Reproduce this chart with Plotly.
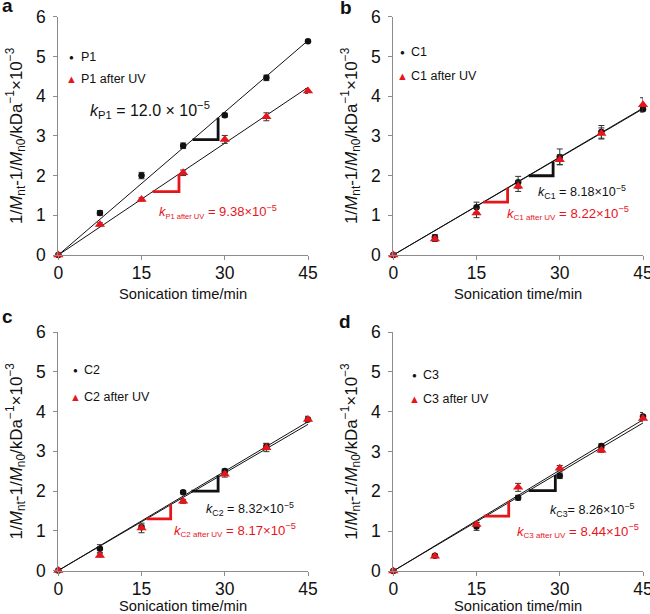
import plotly.graph_objects as go

# ---------------- data ----------------
time_min = [0, 7.5, 15, 22.5, 30, 37.5, 45]
x_ticks = [0, 15, 30, 45]
y_ticks = [0, 1, 2, 3, 4, 5, 6]

# panel a
p1 = [0, 1.06, 2.00, 2.75, 3.52, 4.46, 5.38]
p1_err = [0, 0.06, 0.08, 0.07, 0.05, 0.07, 0.04]
p1_uv = [0, 0.77, 1.40, 2.07, 2.91, 3.48, 4.13]
p1_uv_err = [0, 0.04, 0.04, 0.07, 0.10, 0.10, 0.06]
# panel b
c1 = [0, 0.45, 1.20, 1.83, 2.47, 3.10, 3.67]
c1_err = [0, 0.06, 0.13, 0.15, 0.20, 0.16, 0.05]
c1_uv = [0, 0.40, 1.06, 1.73, 2.40, 3.06, 3.78]
c1_uv_err = [0, 0.06, 0.12, 0.13, 0.12, 0.14, 0.18]
# panel c
c2 = [0, 0.55, 1.09, 1.97, 2.50, 3.12, 3.80]
c2_err = [0, 0.10, 0.05, 0.04, 0.05, 0.08, 0.08]
c2_uv = [0, 0.38, 1.07, 1.74, 2.42, 3.09, 3.80]
c2_uv_err = [0, 0.04, 0.12, 0.05, 0.07, 0.10, 0.06]
# panel d
c3 = [0, 0.38, 1.12, 1.84, 2.39, 3.14, 3.88]
c3_err = [0, 0.03, 0.10, 0.06, 0.07, 0.05, 0.10]
c3_uv = [0, 0.37, 1.17, 2.10, 2.58, 3.03, 3.83]
c3_uv_err = [0, 0.03, 0.05, 0.10, 0.07, 0.05, 0.07]

# rate constants (x 10^-5)
k_values = {"P1": 12.0, "P1 after UV": 9.38,
            "C1": 8.18, "C1 after UV": 8.22,
            "C2": 8.32, "C2 after UV": 8.17,
            "C3": 8.26, "C3 after UV": 8.44}
k_labels = {"P1": "12.0", "P1 after UV": "9.38",
            "C1": "8.18", "C1 after UV": "8.22",
            "C2": "8.32", "C2 after UV": "8.17",
            "C3": "8.26", "C3 after UV": "8.44"}

panels = [
    dict(letter="a", name="P1", y=p1, e=p1_err, yuv=p1_uv, euv=p1_uv_err),
    dict(letter="b", name="C1", y=c1, e=c1_err, yuv=c1_uv, euv=c1_uv_err),
    dict(letter="c", name="C2", y=c2, e=c2_err, yuv=c2_uv, euv=c2_uv_err),
    dict(letter="d", name="C3", y=c3, e=c3_err, yuv=c3_uv, euv=c3_uv_err),
]

# slope-triangle spans (minutes) for black / red series
tri_black = {"a": (24.2, 28.8), "b": (24.4, 28.8), "c": (24.0, 28.8), "d": (24.4, 29.2)}
tri_red = {"a": (17.0, 21.75), "b": (16.2, 20.6), "c": (15.9, 20.25), "d": (16.3, 20.8)}

# ---------------- style / layout ----------------
W, H = 650, 614
FONT = "Liberation Sans, Arial, Helvetica, sans-serif"
RED = "#e8141c"
BLACK = "#111111"
AXC = "#8c8c8c"

def px_x(p):
    return p / W

def px_y(p):
    return 1 - p / H

domains = {
    "a": ([58.3, 308.0], [255.0, 16.7]),
    "b": ([393.3, 643.0], [255.0, 16.7]),
    "c": ([58.3, 308.0], [570.5, 332.0]),
    "d": ([393.3, 643.0], [571.0, 332.0]),
}

fig = go.Figure()
layout = dict(
    width=W, height=H, paper_bgcolor="white", plot_bgcolor="white",
    margin=dict(l=0, r=0, t=0, b=0, autoexpand=False), showlegend=False,
    font=dict(family=FONT, size=15, color=BLACK),
)
annotations = []

ytitle = "1/<i>M</i><sub>nt</sub>-1/<i>M</i><sub>n0</sub>/kDa<sup>−1</sup>×10<sup>−3</sup>"

# text positions (data coords) of rate labels, font size, (subscript size)
k_pos = {
    "a": ((5.3, 3.65, 16), (17.8, 1.08, 13.0, 7.5)),
    "b": ((25.8, 1.59, 12.6), (20.1, 1.06, 13.2, 8)),
    "c": ((26.2, 1.55, 12.6), (20.5, 1.03, 13.2, 8)),
    "d": ((27.8, 1.54, 12.6), (22.0, 1.01, 13.2, 8)),
}
times_sign = {"a": " × ", "b": "×", "c": "×", "d": "×"}
# legend key positions (pixels)
leg_pos = {
    "a": (71.7, 57.3, 79.3),
    "b": (402.3, 52.3, 76.0),
    "c": (75.0, 370.3, 397.0),
    "d": (414.3, 375.3, 398.7),
}
letter_pos = {"a": (0, 18), "b": (338, 20), "c": (0, 329), "d": (337, 334)}

for i, pnl in enumerate(panels):
    idx = "" if i == 0 else str(i + 1)
    xa, ya = "x" + idx, "y" + idx
    L = pnl["letter"]
    (x0p, x1p), (yb, yt) = domains[L]
    layout["xaxis" + idx] = dict(
        domain=[px_x(x0p), px_x(x1p)], range=[0, 45], anchor=ya, automargin=False,
        tickvals=x_ticks, ticks="outside", ticklen=4, tickwidth=1, tickcolor=AXC,
        showline=True, linecolor=AXC, linewidth=1, showgrid=False, zeroline=False,
        tickfont=dict(size=17.5, color=BLACK, family=FONT), ticklabelstandoff=-2,
        ticklabeloverflow="allow",
        title=dict(text="Sonication time/min", font=dict(size=14.7, color=BLACK, family=FONT), standoff=6),
    )
    layout["yaxis" + idx] = dict(
        domain=[px_y(yb), px_y(yt)], range=[0, 6], anchor=xa, automargin=False,
        tickvals=y_ticks, ticks="outside", ticklen=4, tickwidth=1, tickcolor=AXC,
        showline=True, linecolor=AXC, linewidth=1, showgrid=False, zeroline=False,
        tickfont=dict(size=17.5, color=BLACK, family=FONT), ticklabelstandoff=4,
        ticklabeloverflow="allow",
        title=dict(text=ytitle, font=dict(size=17, color=BLACK, family=FONT), standoff=9),
    )

    name = pnl["name"]
    name_uv = name + " after UV"
    s_b = k_values[name] * 0.01
    s_r = k_values[name_uv] * 0.01

    # fit lines
    for s in (s_b, s_r):
        fig.add_trace(go.Scatter(x=[time_min[0], time_min[-1]], y=[s * time_min[0], s * time_min[-1]],
                                 mode="lines", line=dict(color=BLACK, width=1),
                                 xaxis=xa, yaxis=ya, hoverinfo="skip"))
    # slope triangles
    for (t0, t1), s, col in ((tri_black[L], s_b, BLACK), (tri_red[L], s_r, RED)):
        fig.add_trace(go.Scatter(x=[t0, t1, t1], y=[s * t0, s * t0, s * t1], mode="lines",
                                 line=dict(color=col, width=2.8), xaxis=xa, yaxis=ya,
                                 hoverinfo="skip"))
    # data
    fig.add_trace(go.Scatter(x=time_min, y=pnl["y"], mode="markers", name=name,
                             marker=dict(symbol="circle", size=6.5, color=BLACK),
                             error_y=dict(type="data", array=pnl["e"], color="#333333",
                                          thickness=1, width=3),
                             xaxis=xa, yaxis=ya, cliponaxis=False))
    fig.add_trace(go.Scatter(x=time_min, y=pnl["yuv"], mode="markers", name=name_uv,
                             marker=dict(symbol="triangle-up", size=9, color=RED),
                             error_y=dict(type="data", array=pnl["euv"], color="#333333",
                                          thickness=1, width=3),
                             xaxis=xa, yaxis=ya, cliponaxis=False))

    # rate labels
    (bx, by, bs), (rx, ry, rs, sub_s) = k_pos[L]
    eq = "=" if L == "d" else " ="
    tms = times_sign[L]
    annotations.append(dict(
        x=bx, y=by, xref=xa, yref=ya, xanchor="left", yanchor="middle", showarrow=False,
        text="<i>k</i><sub>%s</sub>%s %s%s10<sup>−5</sup>" % (name, eq, k_labels[name], tms),
        font=dict(size=bs, color=BLACK, family=FONT)))
    annotations.append(dict(
        x=rx, y=ry, xref=xa, yref=ya, xanchor="left", yanchor="middle", showarrow=False,
        text="<i>k</i><sub><span style='font-size:%spx'>%s</span></sub> = %s×10<sup>−5</sup>"
             % (sub_s, name_uv, k_labels[name_uv]),
        font=dict(size=rs, color=RED, family=FONT)))

    # legend keys
    lx, ly1, ly2 = leg_pos[L]
    annotations.append(dict(x=px_x(lx), y=px_y(ly1), xref="paper", yref="paper",
                            xanchor="center", yanchor="middle", showarrow=False,
                            text="●", font=dict(size=8, color=BLACK, family=FONT)))
    annotations.append(dict(x=px_x(lx + 7), y=px_y(ly1), xref="paper", yref="paper",
                            xanchor="left", yanchor="middle", showarrow=False,
                            text=name, font=dict(size=12.5, color=BLACK, family=FONT)))
    annotations.append(dict(x=px_x(lx), y=px_y(ly2), xref="paper", yref="paper",
                            xanchor="center", yanchor="middle", showarrow=False,
                            text="▲", font=dict(size=11, color=RED, family=FONT)))
    annotations.append(dict(x=px_x(lx + 7), y=px_y(ly2), xref="paper", yref="paper",
                            xanchor="left", yanchor="middle", showarrow=False,
                            text=name_uv, font=dict(size=12.5, color=BLACK, family=FONT)))
    # panel letter
    gx, gy = letter_pos[L]
    annotations.append(dict(x=px_x(gx), y=px_y(gy), xref="paper", yref="paper",
                            xanchor="left", yanchor="bottom", showarrow=False,
                            text="<b>%s</b>" % L, font=dict(size=19, color=BLACK, family=FONT)))

layout["annotations"] = annotations
fig.update_layout(**layout)
fig.write_html("out.html", config={"displayModeBar": False},
               post_script="document.body.style.margin='0px';document.body.style.overflow='hidden';")
